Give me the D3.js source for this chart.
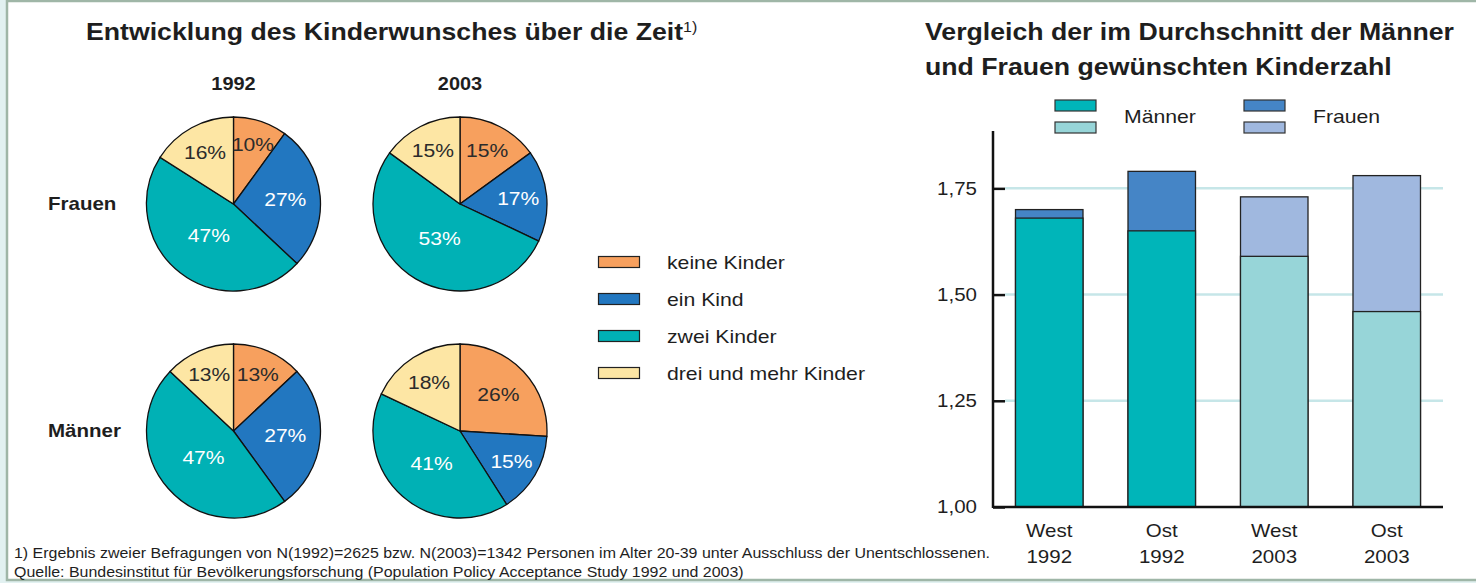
<!DOCTYPE html>
<html>
<head>
<meta charset="utf-8">
<script src="https://d3js.org/d3.v7.min.js"></script>
<style>
  body { margin: 0; background: #e2f1f1; }
  svg { display: block; font-family: "Liberation Sans", Arial, sans-serif; }
</style>
</head>
<body>
<div id="chart"></div>
<script>
// pie data (percent), order clockwise from 12 o'clock
const categories = ["keine Kinder", "ein Kind", "zwei Kinder", "drei und mehr Kinder"];
const years = ["1992", "2003"];
const groups = ["Frauen", "Männer"];
const frauen1992 = [10, 27, 47, 16];
const frauen2003 = [15, 17, 53, 15];
const maenner1992 = [13, 27, 47, 13];
const maenner2003 = [26, 15, 41, 18];

// bar data (average desired number of children)
const barRegions = ["West", "Ost", "West", "Ost"];
const barYears = ["1992", "1992", "2003", "2003"];
const maennerAvg = [1.68, 1.65, 1.59, 1.46];
const frauenAvg = [1.70, 1.79, 1.73, 1.78];
const yTicks = [1.00, 1.25, 1.50, 1.75];

const W = 1476, H = 583, SX = 1.14;
const pieColors = ["#f7a05e", "#2277c0", "#00b1b5", "#fde6a4"];
const pieText = ["#2b2b2b", "#ffffff", "#ffffff", "#2b2b2b"];
const maennerCol = {"1992": "#00b5b9", "2003": "#97d5d8"};
const frauenCol = {"1992": "#4585c6", "2003": "#a0b8df"};

const svg = d3.select("#chart").append("svg").attr("width", W).attr("height", H);

svg.append("rect").attr("x", 7).attr("y", 1).attr("width", W + 10).attr("height", 579)
  .attr("fill", "#fff").attr("stroke", "#9fb6a7").attr("stroke-width", 2.5);

// text helper: wide glyphs like the original
function label(parent, x, y, s, size, opts) {
  opts = opts || {};
  const g = parent.append("g").attr("transform", `translate(${x},${y}) scale(${SX},1)`);
  const t = g.append("text").attr("font-size", size)
    .attr("text-anchor", opts.anchor || "start")
    .attr("font-weight", opts.bold ? "bold" : "normal")
    .attr("fill", opts.fill || "#1e1e1e")
    .text(s);
  return t;
}

// ---------- left: pies ----------
const t1 = label(svg, 86, 39.5, "Entwicklung des Kinderwunsches über die Zeit", 23.4, {bold: true});
t1.append("tspan").attr("font-size", 14).attr("font-weight", "normal").attr("dy", -8).text("1)");

const px = d3.scalePoint().domain(years).range([233.5, 460]);
const py = d3.scalePoint().domain(groups).range([204, 431]);
const R = 87;

years.forEach(yr => label(svg, px(yr), 89.5, yr, 17.5, {bold: true, anchor: "middle"}));
groups.forEach(gr => label(svg, 48, py(gr) + 6, gr, 18, {bold: true}));

const pieData = [
  {g: "Frauen", y: "1992", v: frauen1992},
  {g: "Frauen", y: "2003", v: frauen2003},
  {g: "Männer", y: "1992", v: maenner1992},
  {g: "Männer", y: "2003", v: maenner2003}
];
const pie = d3.pie().sort(null).value(d => d);
const arc = d3.arc().innerRadius(0).outerRadius(R);

pieData.forEach(pd => {
  const g = svg.append("g").attr("transform", `translate(${px(pd.y)},${py(pd.g)})`);
  const arcs = pie(pd.v);
  g.selectAll("path").data(arcs).join("path")
    .attr("d", arc)
    .attr("fill", (d, i) => pieColors[i])
    .attr("stroke", "#111").attr("stroke-width", 1.3);
  arcs.forEach((a, i) => {
    const f = pd.v[i] / 100;
    const lr = R * Math.max(0.46, 0.80 - 0.75 * f);
    const m = (a.startAngle + a.endAngle) / 2;
    label(g, Math.sin(m) * lr, -Math.cos(m) * lr + 6.5, pd.v[i] + "%", 18.5,
      {anchor: "middle", fill: pieText[i]});
  });
});

// pie legend
const ly = d3.scalePoint().domain(categories).range([262, 373]);
categories.forEach((c, i) => {
  svg.append("rect").attr("x", 598.5).attr("y", ly(c) - 5.5).attr("width", 41).attr("height", 11)
    .attr("fill", pieColors[i]).attr("stroke", "#222").attr("stroke-width", 1.2);
  label(svg, 667, ly(c) + 6.5, c, 18.6);
});

// ---------- right: bars ----------
label(svg, 925, 40, "Vergleich der im Durchschnitt der Männer", 23.4, {bold: true});
label(svg, 925, 75, "und Frauen gewünschten Kinderzahl", 23.4, {bold: true});

const x0 = 993, x1 = 1443;
const x = d3.scaleBand().domain(d3.range(barRegions.length)).range([x0, x1])
  .paddingInner(0.4).paddingOuter(0.2);
const y = d3.scaleLinear().domain([1, 1.885]).range([507, 131]);
const de = d3.formatLocale({decimal: ",", thousands: ".", grouping: [3], currency: ["", "€"]});

// gridlines
svg.append("g").selectAll("line").data(yTicks.filter(v => v > 1)).join("line")
  .attr("x1", x0 + 12).attr("x2", x1).attr("y1", d => y(d)).attr("y2", d => y(d))
  .attr("stroke", "#c6e6e8").attr("stroke-width", 2.5);

// bars: Frauen full height behind, Männer in front
const bars = svg.append("g");
barRegions.forEach((r, i) => {
  bars.append("rect").attr("x", x(i)).attr("width", x.bandwidth())
    .attr("y", y(frauenAvg[i])).attr("height", y(1) - y(frauenAvg[i]))
    .attr("fill", frauenCol[barYears[i]]).attr("stroke", "#222").attr("stroke-width", 1.3);
  bars.append("rect").attr("x", x(i)).attr("width", x.bandwidth())
    .attr("y", y(maennerAvg[i])).attr("height", y(1) - y(maennerAvg[i]))
    .attr("fill", maennerCol[barYears[i]]).attr("stroke", "#222").attr("stroke-width", 1.3);
  const cx = x(i) + x.bandwidth() / 2;
  label(svg, cx, 537, r, 18, {anchor: "middle"});
  label(svg, cx, 563, barYears[i], 18, {anchor: "middle"});
});

// y axis
const yAxis = svg.append("g").attr("transform", `translate(${x0},0)`)
  .call(d3.axisLeft(y).tickValues(yTicks).tickSize(-12).tickPadding(16).tickFormat(de.format(".2f")));
yAxis.select(".domain").remove();
yAxis.selectAll(".tick line").attr("stroke", "#111").attr("stroke-width", 2.5);
yAxis.selectAll(".tick text").attr("font-size", 18).attr("fill", "#1e1e1e")
  .attr("font-family", "Liberation Sans, Arial, sans-serif")
  .attr("x", -16 / SX).attr("dy", "0.33em").attr("transform", `scale(${SX},1)`);
svg.append("line").attr("x1", x0).attr("x2", x0).attr("y1", y(1.885)).attr("y2", y(1) + 1)
  .attr("stroke", "#111").attr("stroke-width", 2.5);
svg.append("line").attr("x1", x0).attr("x2", x1).attr("y1", y(1)).attr("y2", y(1))
  .attr("stroke", "#111").attr("stroke-width", 2.5);

// bar legend
const legItems = [
  {name: "Männer", cols: maennerCol, x: 1055, tx: 1124},
  {name: "Frauen", cols: frauenCol, x: 1244, tx: 1313}
];
legItems.forEach(it => {
  years.forEach((yr, j) => {
    svg.append("rect").attr("x", it.x).attr("y", 100 + j * 22).attr("width", 41).attr("height", 11)
      .attr("fill", it.cols[yr]).attr("stroke", "#333").attr("stroke-width", 1.2);
  });
  label(svg, it.tx, 123, it.name, 18.6);
});

// footnote
label(svg, 14, 558, "1) Ergebnis zweier Befragungen von N(1992)=2625 bzw. N(2003)=1342 Personen im Alter 20-39 unter Ausschluss der Unentschlossenen.", 14);
label(svg, 14, 577, "Quelle: Bundesinstitut für Bevölkerungsforschung (Population Policy Acceptance Study 1992 und 2003)", 14);
</script>
</body>
</html>
